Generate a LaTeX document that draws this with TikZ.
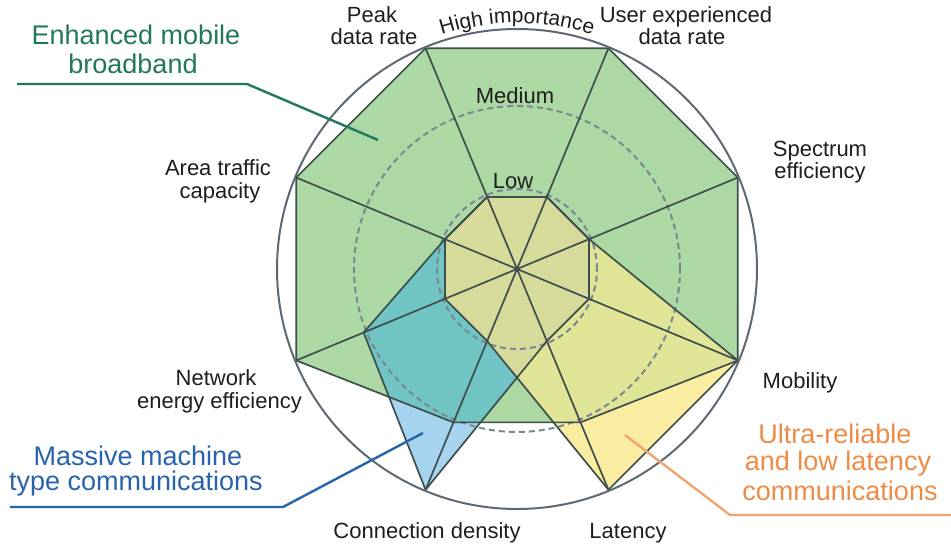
\documentclass[tikz,border=0pt]{standalone}
\usepackage{fontspec}
\setmainfont{Liberation Sans}
\usetikzlibrary{calc,decorations.text}
\definecolor{gfill}{RGB}{172,217,163}
\definecolor{bfill}{RGB}{166,212,238}
\definecolor{tfill}{RGB}{112,196,196}
\definecolor{yfill}{RGB}{250,236,160}
\definecolor{gyfill}{RGB}{224,228,150}
\definecolor{cfill}{RGB}{214,219,155}
\definecolor{linec}{RGB}{62,78,76}
\definecolor{circc}{RGB}{95,105,115}
\definecolor{dashc}{RGB}{120,135,145}
\definecolor{txt}{RGB}{30,30,30}
\definecolor{embb}{RGB}{34,120,95}
\definecolor{mmtc}{RGB}{40,100,170}
\definecolor{urllc}{RGB}{238,140,70}
\definecolor{urllcline}{RGB}{240,165,110}
\begin{document}
\begin{tikzpicture}[x=1pt,y=1pt,
  lbl/.style={font=\fontsize{22}{24}\selectfont, text=txt, inner sep=0pt, anchor=base},
  biglbl/.style={font=\fontsize{27}{29}\selectfont, inner sep=0pt, anchor=base},
  axisline/.style={draw=linec, line width=1.7pt},
  polyline/.style={draw=linec, line width=1.7pt, line join=round},
  levelcircle/.style={draw=dashc, line width=2pt, dash pattern=on 6pt off 4pt},
  outercircle/.style={draw=circc, line width=2pt},
  callout/.style={line width=2.4pt, line join=round}]
\useasboundingbox (0,0) rectangle (951,-546);
\fill[white] (0,0) rectangle (951,-546);
\coordinate (C) at (517,-269);
\foreach \n/\a in {pk/112.5,ue/67.5,se/22.5,mo/-22.5,la/-67.5,cd/-112.5,ne/-157.5,at/157.5}{
  \coordinate (\n-H) at ($(C)+(\a:239)$);
  \coordinate (\n-M) at ($(C)+(\a:166)$);
  \coordinate (\n-L) at ($(C)+(\a:78)$);
}
\def\gpoly{(pk-H)--(ue-H)--(se-H)--(mo-H)--(la-M)--(cd-M)--(ne-H)--(at-H)--cycle}
\def\bpoly{(pk-L)--(ue-L)--(se-L)--(mo-L)--(la-L)--(cd-H)--(ne-M)--(at-L)--cycle}
\def\ypoly{(pk-L)--(ue-L)--(se-L)--(mo-H)--(la-H)--(cd-L)--(ne-L)--(at-L)--cycle}
% fills
\fill[gfill] \gpoly;
\fill[bfill] \bpoly;
\begin{scope}
  \clip \gpoly;
  \fill[tfill] \bpoly;
\end{scope}
\fill[yfill] \ypoly;
\begin{scope}
  \clip \gpoly;
  \fill[gyfill] \ypoly;
\end{scope}
\begin{scope}
  \clip \bpoly;
  \clip \ypoly;
  \fill[cfill] \ypoly;
\end{scope}
% level circles
\draw[levelcircle] (C) circle[radius=163];
\draw[levelcircle] (C) circle[radius=80];
% axes
\foreach \n in {pk,ue,se,mo,la,cd,ne,at}{
  \draw[axisline] (C) -- (\n-H);
}
% polygon outlines
\draw[polyline] \gpoly;
\draw[polyline] \bpoly;
\draw[polyline] \ypoly;
% outer circle
\draw[outercircle] (C) circle[radius=240];
% curved label
\path[decorate, decoration={text along path, text align=center, text color=txt,
  text={|\fontsize{21}{21}\selectfont|High importance}}]
  ($(C)+(113:246)$) arc[start angle=113, end angle=67, radius=246];
% axis labels
\node[lbl] (peak1) at (372,-22) {Peak};
\node[lbl] (peak2) at (374,-45) {data rate};
\node[lbl] (ue1) at (686,-22) {User experienced};
\node[lbl] (ue2) at (682,-45) {data rate};
\node[lbl] (med) at (515,-103) {Medium};
\node[lbl] (low) at (513,-188) {Low};
\node[lbl] (se1) at (820,-156) {Spectrum};
\node[lbl] (se2) at (820,-178) {efficiency};
\node[lbl] (at1) at (218,-175) {Area traffic};
\node[lbl] (at2) at (220,-198) {capacity};
\node[lbl] (ne1) at (216,-385) {Network};
\node[lbl, anchor=base east] (ne2) at (302,-408) {energy efficiency};
\node[lbl] (mob) at (800,-388) {Mobility};
\node[lbl] (cdl) at (427,-538) {Connection density};
\node[lbl] (lat) at (628,-538) {Latency};
% usage scenario labels
\node[biglbl,text=embb] (embb1) at (136,-45) {Enhanced mobile};
\node[biglbl,text=embb] (embb2) at (133,-73) {broadband};
\node[biglbl,text=mmtc] (mm1) at (138,-465) {Massive machine};
\node[biglbl,text=mmtc] (mm2) at (136,-490) {type communications};
\node[biglbl,text=urllc] (ur1) at (835,-443) {Ultra-reliable};
\node[biglbl,text=urllc] (ur2) at (838,-470) {and low latency};
\node[biglbl,text=urllc] (ur3) at (840,-500) {communications};
% callouts
\coordinate (embbA) at (17,-84);
\coordinate (embbB) at (247,-84);
\coordinate (embbC) at (378,-140);
\draw[callout, draw=embb] (embbA) -- (embbB) -- (embbC);
\coordinate (mmA) at (10,-507);
\coordinate (mmB) at (283,-507);
\coordinate (mmC) at (423,-433);
\draw[callout, draw=mmtc] (mmA) -- (mmB) -- (mmC);
\coordinate (urA) at (625,-435);
\coordinate (urB) at (730,-515);
\coordinate (urC) at (951,-515);
\draw[callout, draw=urllcline] (urA) -- (urB) -- (urC);
\end{tikzpicture}
\end{document}
